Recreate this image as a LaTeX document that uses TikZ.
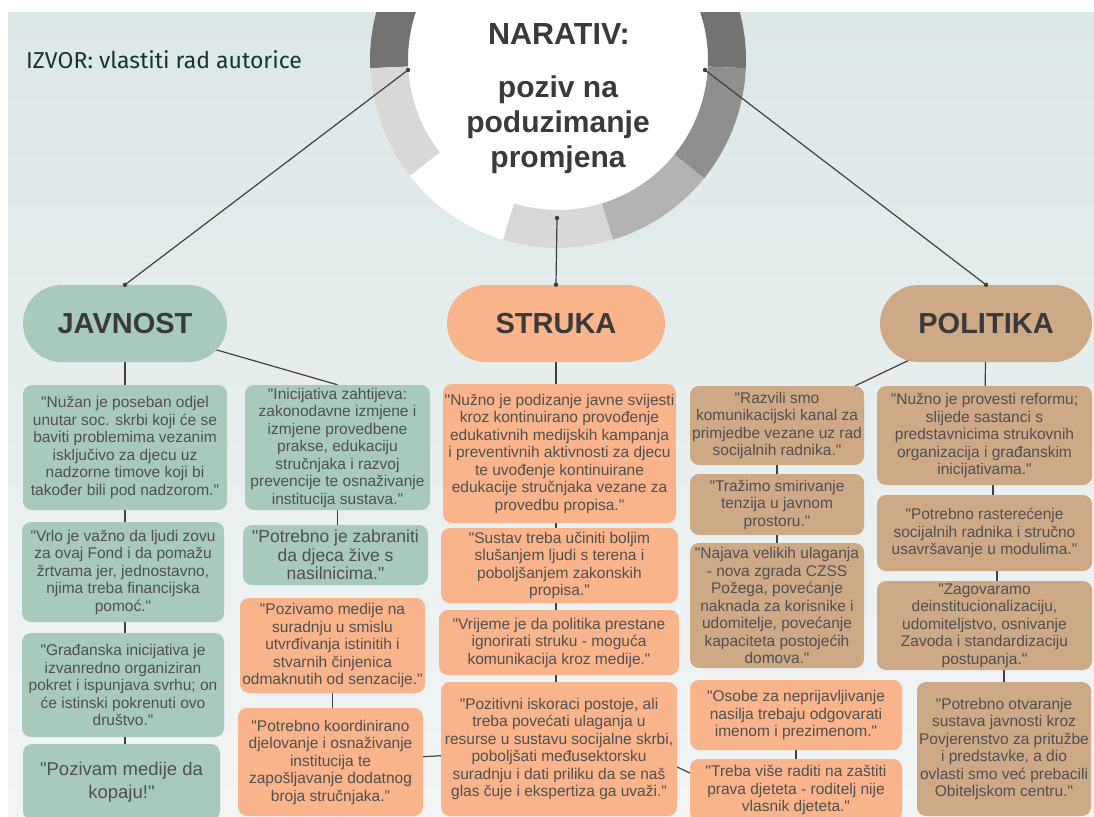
\documentclass[tikz,border=0pt]{standalone}
\usepackage{fontspec}
\setmainfont{Liberation Sans}[Ligatures=TeXOff]
\newfontfamily\izvorfont{Fira Sans}
\usetikzlibrary{shapes.misc,calc}
\definecolor{bgtop}{HTML}{DCE7E7}
\definecolor{bgbot}{HTML}{F3F5F5}
\definecolor{sage}{HTML}{A8CABC}
\definecolor{peach}{HTML}{F9B48B}
\definecolor{ctan}{HTML}{CEA986}
\definecolor{txtc}{HTML}{505050}
\definecolor{headc}{HTML}{3A3A3A}
\definecolor{clink}{HTML}{404040}
\definecolor{izc}{HTML}{173434}
\definecolor{rdark}{HTML}{737373}
\definecolor{rmd}{HTML}{8F8F8F}
\definecolor{rmid}{HTML}{B3B3B3}
\definecolor{rlight}{HTML}{D8D8D8}
\pgfdeclarelayer{bg}
\pgfdeclarelayer{lines}
\pgfsetlayers{bg,lines,main}
\newcommand\ringseg[3]{%
  \fill[#3] ($(558,60)+({-(#1)}:188)$) arc[start angle={-(#1)}, end angle={-(#2)}, radius=188]
    -- ($(558,60)+({-(#2)}:150)$) arc[start angle={-(#2)}, end angle={-(#1)}, radius=150] -- cycle;}
\tikzset{
  box/.style={rectangle, rounded corners=9pt, align=center, inner sep=0pt, text=txtc,
    font=\fontsize{15.5}{17.5}\selectfont},
  gbox/.style={box, fill=sage},
  obox/.style={box, fill=peach},
  tbox/.style={box, fill=ctan},
  head/.style={rounded rectangle, inner sep=0pt, text=headc,
    font=\fontsize{29}{29}\selectfont\bfseries},
  link/.style={draw=clink, line width=1.2pt},
}
\begin{document}
\begin{tikzpicture}[x=1pt,y=-1pt]
\useasboundingbox (0,0) rectangle (1094,816);
% ---------- background and ring
\begin{pgfonlayer}{bg}
  \fill[white] (0,0) rectangle (1094,816);
  \shade[top color=bgtop, bottom color=bgbot] (8,13) rectangle (1094,816);
  \begin{scope}
    \clip (8,13) rectangle (1094,816);
    \fill[white] (558,60) circle (188);
    \ringseg{-2.5}{182.5}{rdark}
    \ringseg{182.5}{218}{rlight}
    \ringseg{253}{287}{rlight}
    \ringseg{287}{321}{rmid}
    \ringseg{321}{357.5}{rmd}
  \end{scope}
\end{pgfonlayer}

\node[anchor=base west, inner sep=0pt, text=izc, font=\izvorfont\fontsize{23}{23}\selectfont] (src) at (26,68) {IZVOR: vlastiti rad autorice};

\node[anchor=base, inner sep=0pt, text=headc, font=\fontsize{30.5}{35}\selectfont\bfseries] (title) at (559,45) {NARATIV:};
\node[align=center, inner sep=0pt, text=headc, font=\fontsize{30}{35}\selectfont\bfseries] (sub) at (558,125) {poziv na\\poduzimanje\\promjena};

\coordinate (rl) at (408,70);
\coordinate (rr) at (705,70);
\coordinate (rb) at (557,218);

% ---------- headers
\node[head, fill=sage, minimum width=204, minimum height=77] (jav) at (125,323.5) {JAVNOST};
\node[head, fill=peach, minimum width=218, minimum height=77] (struka) at (556,323.5) {STRUKA};
\node[head, fill=ctan, minimum width=212, minimum height=77] (pol) at (986,323.5) {POLITIKA};

% ---------- JAVNOST
\node[gbox, minimum width=204, minimum height=125] (a1) at (125,447.5) {"Nužan je poseban odjel\\unutar soc. skrbi koji će se\\baviti problemima vezanim\\isključivo za djecu uz\\nadzorne timove koji bi\\također bili pod nadzorom."};
\node[gbox, minimum width=202, minimum height=100] (a2) at (123,572) {"Vrlo je važno da ljudi zovu\\za ovaj Fond i da pomažu\\žrtvama jer, jednostavno,\\njima treba financijska\\pomoć."};
\node[gbox, minimum width=202, minimum height=104] (a3) at (123,685) {"Građanska inicijativa je\\izvanredno organiziran\\pokret i ispunjava svrhu; on\\će istinski pokrenuti ovo\\društvo."};
\node[gbox, minimum width=197, minimum height=76, font=\fontsize{18.5}{23}\selectfont] (a4) at (121.5,782) {"Pozivam medije da\\kopaju!"};

\node[gbox, minimum width=185, minimum height=125] (b1) at (337.5,447.5) {"Inicijativa zahtijeva:\\zakonodavne izmjene i\\izmjene provedbene\\prakse, edukaciju\\stručnjaka i razvoj\\prevencije te osnaživanje\\institucija sustava."};
\node[gbox, minimum width=185, minimum height=60, font=\fontsize{17.5}{18.5}\selectfont] (b2) at (335.5,555) {"Potrebno je zabraniti\\da djeca žive s\\nasilnicima."};
\node[obox, minimum width=185, minimum height=95] (b3) at (332.5,645.5) {"Pozivamo medije na\\suradnju u smislu\\utvrđivanja istinitih i\\stvarnih činjenica\\odmaknutih od senzacije."};
\node[obox, minimum width=185, minimum height=108] (b4) at (330.5,762) {"Potrebno koordinirano\\djelovanje i osnaživanje\\institucija te\\zapošljavanje dodatnog\\broja stručnjaka."};

% ---------- STRUKA
\node[obox, minimum width=233, minimum height=139] (c1) at (559.5,453.5) {"Nužno je podizanje javne svijesti\\kroz kontinuirano provođenje\\edukativnih medijskih kampanja\\i preventivnih aktivnosti za djecu\\te uvođenje kontinuirane\\edukacije stručnjaka vezane za\\provedbu propisa."};
\node[obox, minimum width=237, minimum height=75] (c2) at (559.5,565.5) {"Sustav treba učiniti boljim\\slušanjem ljudi s terena i\\poboljšanjem zakonskih\\propisa."};
\node[obox, minimum width=240, minimum height=65] (c3) at (559,642.5) {"Vrijeme je da politika prestane\\ignorirati struku - moguća\\komunikacija kroz medije."};
\node[obox, minimum width=236, minimum height=134] (c4) at (559,749) {"Pozitivni iskoraci postoje, ali\\treba povećati ulaganja u\\resurse u sustavu socijalne skrbi,\\poboljšati međusektorsku\\suradnju i dati priliku da se naš\\glas čuje i ekspertiza ga uvaži."};

% ---------- POLITIKA
\node[tbox, minimum width=174, minimum height=79] (d1) at (777,425.5) {"Razvili smo\\komunikacijski kanal za\\primjedbe vezane uz rad\\socijalnih radnika."};
\node[tbox, minimum width=174, minimum height=61] (d2) at (777,504.5) {"Tražimo smirivanje\\tenzija u javnom\\prostoru."};
\node[tbox, minimum width=174, minimum height=125] (d3) at (777,605.5) {"Najava velikih ulaganja\\- nova zgrada CZSS\\Požega, povećanje\\naknada za korisnike i\\udomitelje, povećanje\\kapaciteta postojećih\\domova."};
\node[obox, minimum width=212, minimum height=70] (d4) at (796,715) {"Osobe za neprijavljivanje\\nasilja trebaju odgovarati\\imenom i prezimenom."};
\node[obox, minimum width=212, minimum height=62] (d5) at (796,790) {"Treba više raditi na zaštiti\\prava djeteta - roditelj nije\\vlasnik djeteta."};

\node[tbox, minimum width=215, minimum height=99] (e1) at (984.5,435.5) {"Nužno je provesti reformu;\\slijede sastanci s\\predstavnicima strukovnih\\organizacija i građanskim\\inicijativama."};
\node[tbox, minimum width=215, minimum height=76] (e2) at (984.5,533) {"Potrebno rasterećenje\\socijalnih radnika i stručno\\usavršavanje u modulima."};
\node[tbox, minimum width=215, minimum height=89] (e3) at (984.5,625.5) {"Zagovaramo\\deinstitucionalizaciju,\\udomiteljstvo, osnivanje\\Zavoda i standardizaciju\\postupanja."};
\node[tbox, minimum width=174, minimum height=134] (e4) at (1004,749) {"Potrebno otvaranje\\sustava javnosti kroz\\Povjerenstvo za pritužbe\\i predstavke, a dio\\ovlasti smo već prebacili\\Obiteljskom centru."};

% ---------- connectors
\begin{pgfonlayer}{lines}
  \draw[link] (rl) -- (jav.north);
  \draw[link] (rb) -- (struka.north);
  \draw[link] (rr) -- (pol.north);
  \draw[link] (jav.center) -- (jav.center |- a4.center);
  \draw[link] (jav.center) -- (b1.north);
  \draw[link] (b1.center) -- (b1.center |- b2.center);
  \draw[link] (b3.center) -- (b3.center |- b4.center);
  \draw[link] (b4.center) -- (c4.center);
  \draw[link] (struka.center) -- (struka.center |- c4.center);
  \draw[link] ([yshift=-18pt]c4.east) -- ([yshift=17pt]d5.west);
  \draw[link] (pol.center) -- ([xshift=-9pt]d1.north east);
  \draw[link] (pol.center) -- (e1.center);
  \draw[link] (d1.center) -- (d1.center |- d3.center);
  \draw[link] (d4.center) -- (d4.center |- d5.center);
  \draw[link] ([xshift=8.5pt]e1.center) -- ([xshift=8.5pt]e1.center |- e2.center);
  \draw[link] ([xshift=12.5pt]e2.center) -- ([xshift=12.5pt]e2.center |- e3.center);
  \draw[link] (e4.center) -- (e4.center |- e3.center);
\end{pgfonlayer}
\foreach \p in {rl,rr,rb,jav.north,struka.north,pol.north}
  \fill[clink] (\p) circle (2.2);
\end{tikzpicture}
\end{document}
